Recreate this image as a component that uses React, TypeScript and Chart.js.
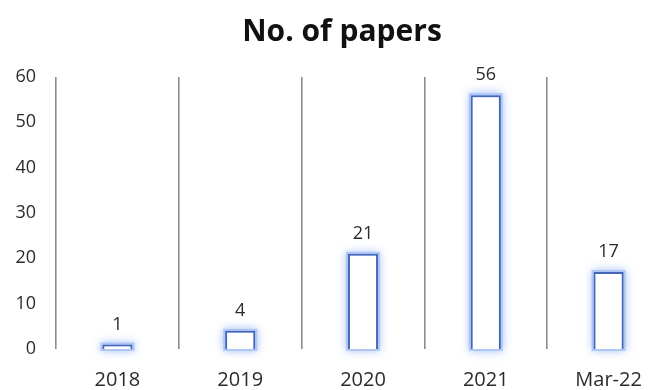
import React, { useEffect, useRef } from "react";
import { Chart, registerables } from "chart.js";

Chart.register(...registerables);

const categories = ["2018", "2019", "2020", "2021", "Mar-22"];
const papers = [1, 4, 21, 56, 17];
const yTicks = [0, 10, 20, 30, 40, 50, 60];
const chartTitle = "No. of papers";

const FONT = "'Open Sans', 'Noto Sans', sans-serif";

const glowPlugin = {
  id: "glow",
  beforeDatasetsDraw(chart: any) {
    const ctx = chart.ctx;
    const meta = chart.getDatasetMeta(0);
    ctx.save();
    ctx.shadowColor = "rgba(120,160,240,0.8)";
    ctx.shadowBlur = 9;
    ctx.fillStyle = "rgba(170,195,245,0.85)";
    meta.data.forEach((bar: any) => {
      const w = bar.width;
      const top = Math.min(bar.y, bar.base);
      const h = Math.abs(bar.base - bar.y);
      ctx.fillRect(bar.x - w / 2 - 2, top - 2, w + 4, h + 4);
    });
    ctx.restore();
  },
};

const labelPlugin = {
  id: "valueLabels",
  afterDatasetsDraw(chart: any) {
    const ctx = chart.ctx;
    const meta = chart.getDatasetMeta(0);
    ctx.save();
    ctx.font = `18px ${FONT}`;
    ctx.fillStyle = "#2b2b2b";
    ctx.textAlign = "center";
    ctx.textBaseline = "middle";
    meta.data.forEach((bar: any, i: number) => {
      ctx.fillText(String(papers[i]), bar.x, bar.y - 20);
    });
    ctx.restore();
  },
};

export default function App() {
  const ref = useRef<HTMLCanvasElement | null>(null);
  useEffect(() => {
    if (!ref.current) return;
    const chart = new Chart(ref.current, {
      type: "bar",
      data: {
        labels: categories,
        datasets: [
          {
            data: papers,
            backgroundColor: "#ffffff",
            borderColor: "#4466b8",
            borderWidth: 2,
            categoryPercentage: 1,
            barPercentage: 0.245,
          },
        ],
      },
      options: {
        responsive: false,
        animation: false,
        layout: { padding: { left: 14, right: 18, top: 0, bottom: 0 } },
        plugins: {
          legend: { display: false },
          tooltip: { enabled: false },
          title: {
            display: true,
            text: chartTitle,
            color: "#111111",
            font: { family: FONT, size: 30, weight: "bold", lineHeight: 1.2 },
            padding: { top: 14, bottom: 27 },
          },
        },
        scales: {
          x: {
            offset: true,
            grid: {
              display: true,
              offset: true,
              color: "#8c8c8c",
              lineWidth: 1.6,
              drawTicks: false,
            },
            border: { display: false },
            ticks: {
              color: "#2b2b2b",
              font: { family: FONT, size: 20 },
              padding: 19,
              maxRotation: 0,
            },
            afterFit(scale: any) {
              scale.height = 41;
            },
          },
          y: {
            min: 0,
            max: 60,
            afterBuildTicks(scale: any) {
              scale.ticks = yTicks.map((v) => ({ value: v }));
            },
            grid: { display: false, drawTicks: false },
            border: { display: false },
            ticks: {
              color: "#2b2b2b",
              font: { family: FONT, size: 18 },
              padding: 20,
            },
            afterFit(scale: any) {
              scale.width = 42;
            },
          },
        },
      },
      plugins: [glowPlugin, labelPlugin],
    });
    return () => chart.destroy();
  }, []);
  return (
    <div
      style={{
        position: "fixed",
        left: 0,
        top: 0,
        width: 661,
        height: 390,
        overflow: "hidden",
        background: "#ffffff",
      }}
    >
      <canvas ref={ref} width={688} height={390} style={{ display: "block" }} />
    </div>
  );
}
